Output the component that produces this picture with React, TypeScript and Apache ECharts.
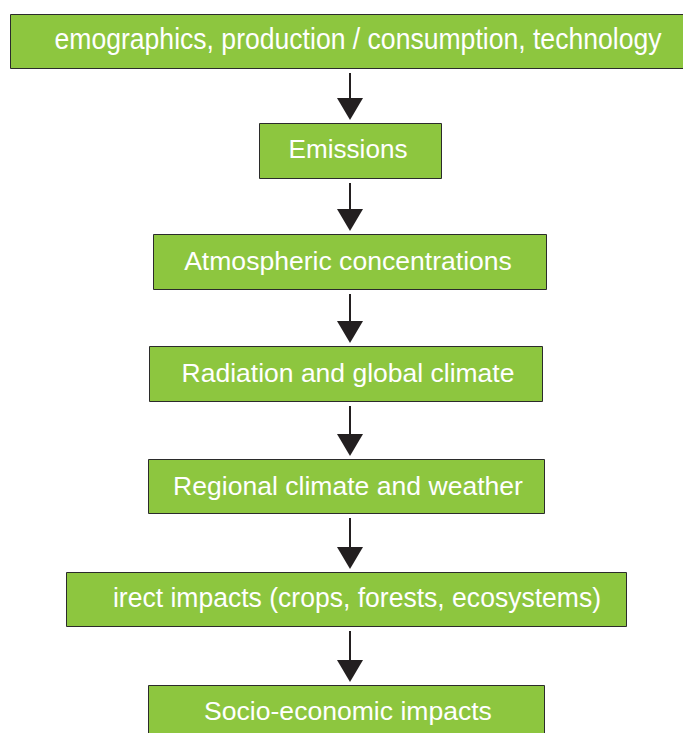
import React, { useEffect, useRef } from "react";
import * as echarts from "echarts";

// Flowchart content (top to bottom)
const labels: string[] = [
  "emographics, production / consumption, technology",
  "Emissions",
  "Atmospheric concentrations",
  "Radiation and global climate",
  "Regional climate and weather",
  "irect impacts (crops, forests, ecosystems)",
  "Socio-economic impacts",
];

// Layout: [left, top, width, height, textCenterX, textWidth, textCenterY, fontSize]
const boxLayout: number[][] = [
  [10, 14, 700, 54, 358, 607, 38, 30],
  [259, 123, 182, 55, 348, 119, 149.5, 25],
  [153, 234, 393, 55, 348, 328, 261.3, 25],
  [149, 346, 393, 55, 348, 333, 373.3, 25],
  [148, 459, 396, 54, 348, 350, 486.3, 25],
  [66, 572, 560, 54, 357, 488, 597.5, 27],
  [148, 685, 396, 70, 348, 288, 711.3, 25],
];

const ARROW_X = 350;
const GREEN = "#8dc63f";
const BORDER = "#2b2b2b";
const ARROW = "#231f20";
const FAMILY = "'Liberation Sans', Arial, sans-serif";

function measure(text: string, size: number): number {
  const c = document.createElement("canvas");
  const ctx = c.getContext("2d");
  if (!ctx) return text.length * size * 0.5;
  ctx.font = `${size}px ${FAMILY}`;
  return ctx.measureText(text).width;
}

export default function App() {
  const ref = useRef<HTMLDivElement>(null);
  useEffect(() => {
    if (!ref.current) return;
    const chart = echarts.init(ref.current, undefined, { renderer: "svg" });
    const elements: any[] = [];
    labels.forEach((label, i) => {
      const [l, t, w, h, cx, tw, cy, fs] = boxLayout[i];
      elements.push({
        type: "rect",
        shape: { x: l + 0.5, y: t + 0.5, width: w, height: h },
        style: { fill: GREEN, stroke: BORDER, lineWidth: 1 },
      });
      const mw = measure(label, fs);
      elements.push({
        type: "text",
        x: cx,
        y: cy,
        scaleX: tw / mw,
        style: {
          text: label,
          fill: "#ffffff",
          font: `${fs}px ${FAMILY}`,
          textAlign: "center",
          textVerticalAlign: "middle",
        },
      });
      if (i < labels.length - 1) {
        const bottom = t + h;
        const nextTop = boxLayout[i + 1][1];
        const tip = nextTop - 3;
        const headTop = tip - 22;
        elements.push({
          type: "line",
          shape: { x1: ARROW_X, y1: bottom + 5, x2: ARROW_X, y2: headTop + 2 },
          style: { stroke: ARROW, lineWidth: 2 },
        });
        elements.push({
          type: "polygon",
          shape: {
            points: [
              [ARROW_X - 13, headTop],
              [ARROW_X + 13, headTop],
              [ARROW_X, tip],
            ],
          },
          style: { fill: ARROW },
        });
      }
    });
    chart.setOption({
      animation: false,
      backgroundColor: "#ffffff",
      graphic: { elements },
    });
    return () => chart.dispose();
  }, []);
  return (
    <div
      ref={ref}
      style={{ position: "fixed", left: 0, top: 0, width: 683, height: 733 }}
    />
  );
}
